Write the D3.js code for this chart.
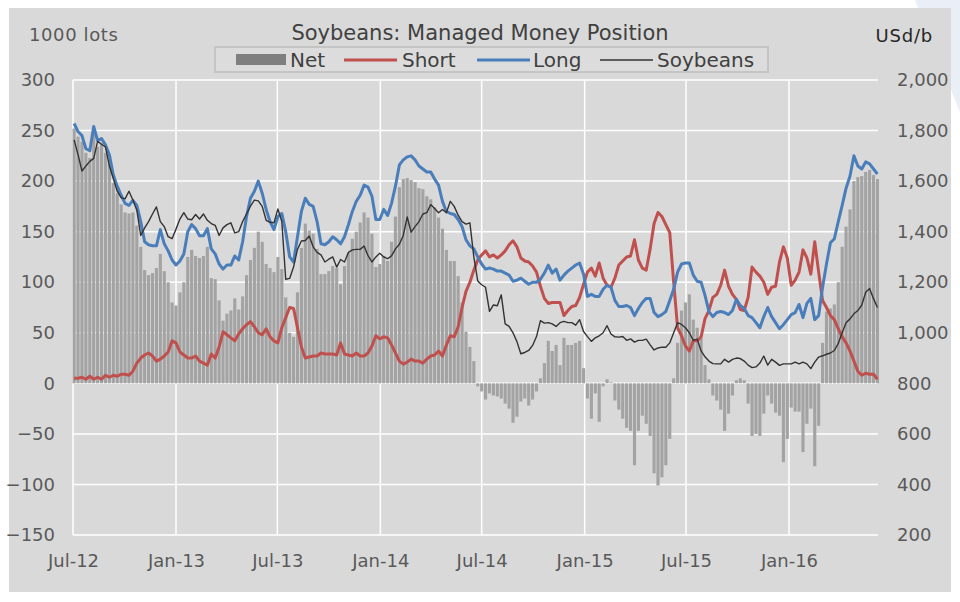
<!DOCTYPE html>
<meta charset="utf-8">
<title>Soybeans: Managed Money Position</title>
<script src="https://d3js.org/d3.v7.min.js"></script>
<body style="margin:0; background:#fff;">
<div id="chart"></div>
</body>
<script>
// weekly COT reports, first one 3 Jul 2012
firstReport = "2012-07-03"

net = [252,244,239,228,223,250,234,238,228,220,198,188,177,169,168,169,156,135,112,107,109,114,128,111,100,80,77,90,100,125,132,126,124,126,135,104,103,82,62,69,72,84,73,86,107,122,134,150,140,118,114,110,125,
  113,85,50,46,90,134,158,151,148,133,108,108,111,116,114,98,116,129,143,150,159,169,164,148,115,118,126,121,140,165,194,202,203,201,199,193,192,185,182,174,164,153,132,121,121,106,80,51,36,22,-3,-8,-16,-10,
  -12,-13,-15,-20,-25,-39,-33,-18,-15,-22,-16,-8,5,20,42,32,38,18,45,38,38,40,42,15,-15,-35,-10,-38,-3,4,1,-17,-26,-35,-44,-47,-81,-47,-32,-40,-52,-89,-101,-93,-81,-55,
  5,40,72,80,88,63,55,45,18,4,-12,-17,-26,-47,-30,-12,3,5,3,-20,-52,-50,-52,-30,-12,-20,-29,-32,-78,-55,-24,-28,-28,-68,-40,-25,-82,-42,40,71,74,78,100,135,155,172,200,204,205,209,211,206,202]

short = [5,5,6,4,7,4,6,4,8,6,8,7,9,9,8,12,20,25,28,30,27,22,24,27,31,42,40,31,28,25,25,27,22,20,18,29,25,36,51,48,45,42,49,54,58,61,56,50,48,54,46,42,40,
  55,65,75,74,55,36,25,26,27,27,30,29,29,29,28,40,29,28,27,30,27,27,30,37,47,44,46,45,38,30,22,19,21,24,22,22,20,24,27,28,32,27,38,47,46,56,75,91,100,112,122,127,131,125,
  127,124,127,131,137,141,135,124,121,120,116,110,96,84,79,80,80,80,67,72,76,77,85,98,110,114,106,119,104,97,95,104,117,121,125,126,142,122,114,112,133,158,169,165,157,149,
  100,55,47,37,32,42,42,46,64,72,85,88,97,112,96,88,83,73,72,85,115,110,106,100,88,95,96,120,135,124,97,102,110,132,124,108,140,110,82,75,67,63,54,46,40,32,22,12,8,10,9,9,4]

long = [257,249,245,232,230,254,240,242,236,226,206,195,186,178,176,181,176,160,140,137,136,136,152,138,131,122,117,121,128,150,157,153,146,146,153,133,128,118,113,117,117,126,122,140,165,183,190,200,188,172,160,152,165,
  168,150,125,120,145,170,183,177,175,160,138,137,140,145,142,138,145,157,170,180,186,196,194,185,162,162,172,166,178,195,216,221,224,225,221,215,212,209,209,202,196,180,170,168,167,162,155,142,136,133,125,118,113,114,
  113,111,111,109,107,101,102,104,101,98,100,100,103,109,117,109,113,102,107,111,114,117,119,108,86,88,86,86,93,97,95,82,76,76,77,75,67,74,80,84,84,70,66,68,71,82,
  93,110,118,119,119,107,101,100,87,71,66,70,71,70,68,72,83,77,74,67,65,60,55,66,75,66,60,54,58,63,68,70,78,65,79,84,63,67,95,118,139,143,160,176,193,205,225,215,212,219,217,212,207]

soybeans = [1763,1705,1640,1660,1678,1690,1757,1746,1735,1660,1610,1560,1535,1530,1560,1525,1485,1385,1415,1440,1470,1498,1440,1420,1380,1372,1410,1450,1475,1450,1447,1468,1450,1470,1445,1432,1425,1385,1415,1428,1435,1395,1400,1440,1470,1501,1525,1522,1500,1445,1437,1435,1490,
  1440,1212,1215,1260,1330,1363,1365,1383,1340,1318,1308,1280,1291,1300,1260,1290,1280,1318,1328,1330,1330,1343,1305,1280,1300,1315,1300,1293,1304,1332,1350,1385,1458,1398,1420,1440,1470,1475,1507,1492,1475,1488,1475,1520,1500,1465,1440,1430,1435,1300,1205,1190,1180,1085,
  1110,1107,1150,1035,1025,1000,965,917,922,930,950,985,1048,1038,1040,1035,1025,1040,1045,1040,1040,1030,1052,1005,985,966,980,988,1000,1028,995,984,983,985,970,976,963,970,970,975,952,932,940,943,943,960,
  1000,1040,1033,1020,1000,970,975,928,905,888,878,877,877,895,884,895,900,898,888,872,862,865,880,908,872,895,884,871,877,877,877,884,877,884,877,858,884,904,909,915,920,930,958,1000,1040,1055,1075,1088,1110,1160,1175,1135,1100]

xTickDates = ["2012-07-01","2013-01-01","2013-07-01","2014-01-01","2014-07-01","2015-01-01","2015-07-01","2016-01-01"]
xTickLabels = ["Jul-12","Jan-13","Jul-13","Jan-14","Jul-14","Jan-15","Jul-15","Jan-16"]
leftTicks = [-150,-100,-50,0,50,100,150,200,250,300]
rightTicks = [200,400,600,800,1000,1200,1400,1600,1800,2000]
seriesNames = ["Net","Short","Long","Soybeans"]

colNet = "#a3a3a3"
colNetKey = "#7f7f7f"
colShort = "#c0504d"
colLong = "#4a7ebb"
colSoy = "#333333"
font = "DejaVu Sans, Verdana, sans-serif"

parse = d3.utcParse("%Y-%m-%d")
start = parse(firstReport)
dates = net.map((d, i) => d3.utcDay.offset(start, 7 * i))
tickDates = xTickDates.map(parse)

plotL = 73, plotR = 878, plotT = 80, plotB = 535

x = d3.scaleUtc()
    .domain([parse("2012-07-01"), parse("2016-06-08")])
    .range([plotL, plotR])
yL = d3.scaleLinear().domain([-150, 300]).range([plotB, plotT])
yR = d3.scaleLinear().domain([200, 2000]).range([plotB, plotT])

svg = d3.select("#chart").append("svg")
    .attr("width", 960)
    .attr("height", 602)
    .style("display", "block")
    .attr("font-family", font)

// pale slide decoration behind the panel
svg.append("path")
    .attr("d", "M915,0L960,0L960,112Z")
    .attr("fill", "#e9eef7")

svg.append("rect")
    .attr("x", 9).attr("y", 8)
    .attr("width", 942).attr("height", 584)
    .attr("fill", "#d9d9d9")

grid = svg.append("g")
    .attr("stroke", "#fff")
    .attr("stroke-width", 1.5)
grid.selectAll(".h")
  .data(leftTicks)
  .join("line")
    .attr("class", "h")
    .attr("x1", plotL).attr("x2", plotR)
    .attr("y1", d => yL(d)).attr("y2", d => yL(d))
grid.selectAll(".v")
  .data(tickDates)
  .join("line")
    .attr("class", "v")
    .attr("x1", d => x(d)).attr("x2", d => x(d))
    .attr("y1", plotT).attr("y2", plotB)

step = x(dates[1]) - x(dates[0])
barW = step * 0.8

svg.append("g")
    .attr("fill", colNet)
  .selectAll("rect")
  .data(net)
  .join("rect")
    .attr("x", (d, i) => x(dates[i]) - barW / 2)
    .attr("width", barW)
    .attr("y", d => yL(Math.max(0, d)))
    .attr("height", d => Math.abs(yL(d) - yL(0)))

lineL = d3.line()
    .x((d, i) => x(dates[i]))
    .y(d => yL(d))
lineR = d3.line()
    .x((d, i) => x(dates[i]))
    .y(d => yR(d))

svg.append("path")
    .attr("d", lineL(short))
    .attr("fill", "none")
    .attr("stroke", colShort)
    .attr("stroke-width", 3)
    .attr("stroke-linejoin", "round")
svg.append("path")
    .attr("d", lineL(long))
    .attr("fill", "none")
    .attr("stroke", colLong)
    .attr("stroke-width", 3)
    .attr("stroke-linejoin", "round")
svg.append("path")
    .attr("d", lineR(soybeans))
    .attr("fill", "none")
    .attr("stroke", colSoy)
    .attr("stroke-width", 1.4)
    .attr("stroke-linejoin", "round")

function styleAxis(g) {
  g.select(".domain").remove()
  g.attr("font-size", 18).attr("font-family", font)
  g.selectAll("text").attr("fill", "#595959")
}

svg.append("g")
    .attr("transform", `translate(${plotL},0)`)
    .call(d3.axisLeft(yL).tickValues(leftTicks).tickSize(0).tickPadding(18))
    .call(styleAxis)
svg.append("g")
    .attr("transform", `translate(${plotR},0)`)
    .call(d3.axisRight(yR).tickValues(rightTicks).tickSize(0).tickPadding(19).tickFormat(d3.format(",")))
    .call(styleAxis)
svg.append("g")
    .attr("transform", `translate(0,${plotB})`)
    .call(d3.axisBottom(x).tickValues(tickDates).tickSize(0).tickPadding(19).tickFormat((d, i) => xTickLabels[i]))
    .call(styleAxis)

svg.append("text")
    .attr("x", 480).attr("y", 40)
    .attr("text-anchor", "middle")
    .attr("font-size", 21)
    .attr("fill", "#404040")
    .text("Soybeans: Managed Money Position")
svg.append("text")
    .attr("x", 29).attr("y", 41)
    .attr("font-size", 18)
    .attr("letter-spacing", 0.6)
    .attr("fill", "#595959")
    .text("1000 lots")
svg.append("text")
    .attr("x", 933).attr("y", 42)
    .attr("text-anchor", "end")
    .attr("font-size", 18)
    .attr("letter-spacing", 0.8)
    .attr("fill", "#262626")
    .text("USd/b")

// legend
legend = svg.append("g")
    .attr("font-size", 20)
    .attr("fill", "#404040")
legend.append("rect")
    .attr("x", 215).attr("y", 47)
    .attr("width", 553).attr("height", 25)
    .attr("fill", "#dcdcdc")
    .attr("stroke", "#c4c4c4")
    .attr("stroke-width", 2)
keyX = [236, 344, 477, 600]
textX = [290, 402, 533, 657]
legend.append("rect")
    .attr("x", keyX[0]).attr("y", 54)
    .attr("width", 50).attr("height", 11)
    .attr("fill", colNetKey)
;[[colShort, 3], [colLong, 3], [colSoy, 1.4]].forEach(([c, w], i) => {
  legend.append("line")
      .attr("x1", keyX[i + 1]).attr("x2", keyX[i + 1] + 53)
      .attr("y1", 60).attr("y2", 60)
      .attr("stroke", c)
      .attr("stroke-width", w)
})
legend.selectAll("text")
  .data(seriesNames)
  .join("text")
    .attr("x", (d, i) => textX[i])
    .attr("y", 67)
    .text(d => d)
</script>
